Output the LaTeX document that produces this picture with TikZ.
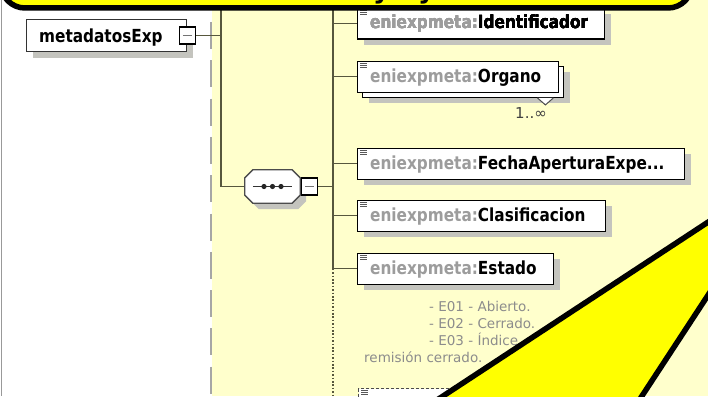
\documentclass[tikz,border=0pt]{standalone}
\usepackage{fontspec}
\usetikzlibrary{shadows,calc}
\newfontfamily\boxfont[FakeStretch=0.85]{DejaVu Sans}
\newfontfamily\notefont{DejaVu Sans}
\definecolor{groupbg}{HTML}{FFFFCC}
\definecolor{wirecol}{HTML}{57573D}
\definecolor{shade}{HTML}{C4C4BE}
\definecolor{prefixcol}{HTML}{9C9C9C}
\definecolor{notecol}{HTML}{8C8C8C}
\definecolor{calloutfill}{HTML}{FFFF00}
\newcommand\pfx{\textcolor{prefixcol}{eniexpmeta:}}
\tikzset{
  wire/.style={draw=wirecol, line width=1.5pt},
  wiredots/.style={wire, dash pattern=on 1.6pt off 1.8pt},
  groupedge/.style={draw=black!35, line width=1.5pt, dash pattern=on 27pt off 11.3pt},
  paneledge/.style={draw=black!40, line width=1.5pt},
  shadowed/.style={drop shadow={shadow xshift=6pt, shadow yshift=-6pt, fill=shade, opacity=1}},
  elembox/.style={draw=black, line width=1.4pt, fill=white, minimum height=31pt,
    inner sep=0pt, anchor=north west},
  elemlabel/.style={anchor=base west, inner sep=0pt,
    font=\boxfont\bfseries\fontsize{18}{20}\selectfont},
  iconline/.style={draw=black!65, line width=0.9pt},
  rootbox/.style={draw=black!80, line width=1.3pt, fill=white, minimum width=160pt,
    minimum height=32pt, inner sep=0pt, anchor=north west},
  minusbox/.style={draw=black, line width=1.5pt, fill=white, minimum width=16pt,
    minimum height=17pt, inner sep=0pt,
    path picture={\draw[black!55, line width=1.3pt]
      ($(path picture bounding box.west)+(3.5,0)$) --
      ($(path picture bounding box.east)+(-3.5,0)$);}},
  seqframe/.style={minimum width=55pt, minimum height=33pt, inner sep=0pt},
  seqline/.style={draw=black!70, line width=1.3pt, fill=white},
  notetext/.style={anchor=base west, inner sep=0pt, text=notecol,
    font=\notefont\fontsize{13.5}{15}\selectfont},
  callout/.style={draw=black, line width=5.5pt, fill=calloutfill, line join=miter},
  calloutlabel/.style={anchor=base west, inner sep=0pt,
    font=\notefont\bfseries\fontsize{26}{28}\selectfont}
}
\newcommand\boxicon[1]{%
  \draw[iconline] ($(#1.north west)+(3,2.5)$) -- ++(7,0)
    ($(#1.north west)+(3,4.5)$) -- ++(7,0)
    ($(#1.north west)+(3,6.5)$) -- ++(7,0);}
\begin{document}
\begin{tikzpicture}[x=1pt,y=-1pt]
\useasboundingbox (0,0) rectangle (708,396);
\clip (0,0) rectangle (708,396);

% panel and group background
\fill[white] (0,0) rectangle (708,396);
\fill[groupbg] (212,0) rectangle (708,396);
\draw[groupedge] (211,22) -- (211,400);
\draw[paneledge] (1.5,0) -- (1.5,396);

% spines of the two compositors
\coordinate (spineA) at (221,-5);
\coordinate (spineB) at (333,-5);
\coordinate (spineBend) at (333,400);

% root element
\node[rootbox, shadowed] (meta) at (26,19) {};
\node[seqframe] (seq) at (272.5,186.5) {};
\node[elembox, shadowed, minimum width=247pt] (ident) at (357,7.5) {};
\node[elembox, shadowed, minimum width=201pt] (organoback) at (362,65.5) {};
\node[elembox, minimum width=201pt] (organo) at (357,60.5) {};
\node[elembox, shadowed, minimum width=327pt] (fecha) at (357,147.5) {};
\node[elembox, shadowed, minimum width=248pt] (clas) at (357,199.5) {};
\node[elembox, shadowed, minimum width=196pt] (estado) at (357,252.5) {};

% connectors
\draw[wire] (meta.east) -- (meta.east -| spineA);
\draw[wire] (spineA) -- (spineA |- seq.west) -- (seq.west);
\draw[wire] (seq.east) -- (seq.east -| spineB);
\draw[wire] (spineB) -- (spineB |- estado.west);
\draw[wiredots] (spineB |- estado.west) -- (spineBend);
\foreach \e in {ident,organo,fecha,clas,estado}
  \draw[wire] (spineB |- \e.west) -- (\e.west);

% boxes redrawn over connector ends
\node[rootbox] at (meta.north west) {};
\node[anchor=base west, inner sep=0pt, font=\boxfont\bfseries\fontsize{18}{20}\selectfont]
  (metalbl) at ($(meta.north west)+(13,24)$) {metadatosExp};
\node[minusbox] (metaminus) at (meta.east) {};

% sequence compositor
\draw[seqline, shadowed]
  ($(seq.north west)+(8,0)$) -- ($(seq.north east)+(-8,0)$) --
  ($(seq.north east)+(0,8)$) -- ($(seq.south east)+(0,-8)$) --
  ($(seq.south east)+(-8,0)$) -- ($(seq.south west)+(8,0)$) --
  ($(seq.south west)+(0,-8)$) -- ($(seq.north west)+(0,8)$) -- cycle;
\draw[draw=black!80, line width=1.2pt] ($(seq.west)+(8,0)$) -- ($(seq.east)+(-8,0)$);
\foreach \dx in {-8.5,0,8.5}
  \fill[black!85] ($(seq.center)+(\dx,0)$) circle (2.6);
\node[minusbox] (seqminus) at (309.5,186.5) {};
\draw[wire] (seqminus.east) -- (seqminus.east -| spineB);

% element icons and names
\foreach \e in {ident,organo,fecha,clas,estado} \boxicon{\e}
\node[elemlabel] (identlbl) at ($(ident.north west)+(13,21.5)$) {\pfx Identificador};
\node[elemlabel] (organolbl) at ($(organo.north west)+(13,21.5)$) {\pfx Organo};
\node[elemlabel] (fechalbl) at ($(fecha.north west)+(13,21.5)$) {\pfx FechaAperturaExpe...};
\node[elemlabel] (claslbl) at ($(clas.north west)+(13,21.5)$) {\pfx Clasificacion};
\node[elemlabel] (estadolbl) at ($(estado.north west)+(13,21.5)$) {\pfx Estado};

% repetition marker of Organo
\draw[draw=black!70, line width=1pt, fill=white]
  ($(organoback.south east)+(-27,0)$) -- ($(organoback.south east)+(-19,7)$) --
  ($(organoback.south east)+(-11,0)$);
\node[anchor=base west, inner sep=0pt, text=black!75,
  font=\notefont\fontsize{15}{16}\selectfont] (organomult) at (515,118.5) {1..∞};

% documentation of Estado
\node[notetext] (note1) at (429,311) {- E01 - Abierto.};
\node[notetext] (note2) at (429,328) {- E02 - Cerrado.};
\node[notetext] (note3) at (429,345) {- E03 - Índice};
\node[notetext] (note4) at (364,362.5) {remisión cerrado.};

% optional element below
\node[draw=black!70, line width=1.2pt, dash pattern=on 3pt off 2pt, fill=white,
  minimum width=220pt, minimum height=40pt, inner sep=0pt, anchor=north west]
  (optbox) at (358,388) {};
\boxicon{optbox}

% speech bubble pointer
\coordinate (tipA) at (792,167);
\coordinate (wedgeL) at (345.6,460);
\coordinate (wedgeR) at (600,460);
\filldraw[callout] (tipA) -- (wedgeL) -- (wedgeR) -- cycle;

% speech bubble body
\draw[callout, rounded corners=24pt] (1,-80) rectangle (692,8);
\node[calloutlabel] (callA) at (373,-1) {y};
\node[calloutlabel] (callB) at (418,-1) {y};
\end{tikzpicture}
\end{document}
